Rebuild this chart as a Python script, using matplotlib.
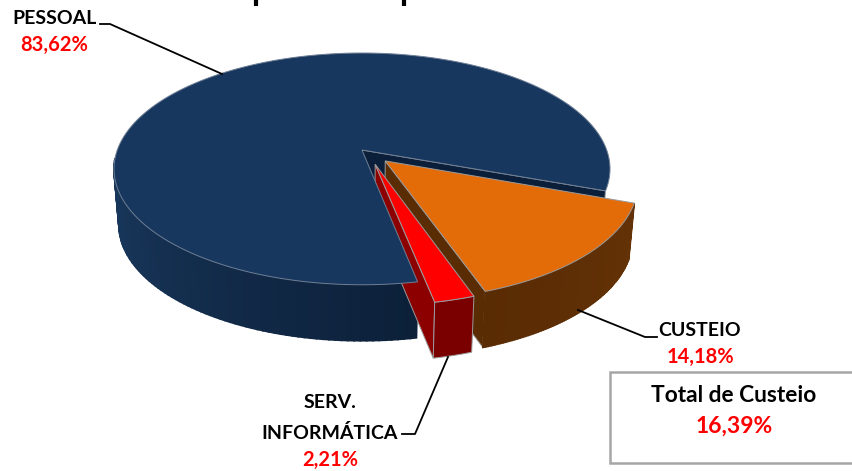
#!/usr/bin/env python3
"""Exploded 3D-look pie of spending shares, drawn with plain polygons."""
import numpy as np
import matplotlib
matplotlib.use("Agg")
import matplotlib.pyplot as plt
from matplotlib.patches import Polygon, Rectangle

plt.rcParams["font.family"] = ["Lato", "DejaVu Sans"]

# data
names = ["PESSOAL", "CUSTEIO", "SERV.\nINFORMÁTICA"]
shares = [83.62, 14.18, 2.21]
share_labels = ["83,62%", "14,18%", "2,21%"]
total_name = "Total de Custeio"
total_label = "16,39%"

# look
NAVY, NAVY_CUT = "#17375e", "#0b1f3a"
ORANGE, ORANGE_SIDE = "#e36c09", "#5a2c04"
RED, RED_SIDE, RED_CUT = "#ff0000", "#7a0000", "#8c0000"
EDGE = "#9a9a9a"

# pie projection, in pixels of the 852x471 picture
CX, CY = 362, 150
A, B, K = 244.7, 112.8, 0.163
DEPTH = 56
START = -20.0          # degrees, slices run clockwise from here


def project(u, v):
    w = 1 + K * v
    return CX + A * u / w, CY - B * v / w


def drop(x, y):
    return CX + (x - CX) * 0.98, y + DEPTH


def rim(t0, t1, explode=0.0, mid=0.0, n=80):
    t = np.radians(np.linspace(t0, t1, n))
    ou = explode * np.cos(np.radians(mid))
    ov = explode * np.sin(np.radians(mid))
    return project(np.cos(t) + ou, np.sin(t) + ov), project(ou, ov)


def poly(ax, xs, ys, color, edge=EDGE, lw=0.7, z=1):
    ec = color if edge is None else edge
    ax.add_patch(Polygon(np.column_stack([xs, ys]), closed=True, facecolor=color,
                         edgecolor=ec, lw=lw, zorder=z))


def side_band(ax, xs, ys, c0, c1, z):
    # outer wall in thin strips so it darkens towards the cut
    c0, c1 = np.array(matplotlib.colors.to_rgb(c0)), np.array(matplotlib.colors.to_rgb(c1))
    bx, by = drop(xs, ys)
    n = len(xs) - 1
    for i in range(n):
        col = c0 + (c1 - c0) * i / max(n - 1, 1)
        poly(ax, [xs[i], xs[i + 1], bx[i + 1], bx[i]], [ys[i], ys[i + 1], by[i + 1], by[i]],
             col, edge=None, lw=1.2, z=z)


def cut_face(ax, ap, pt, color, z):
    ax0, ay0 = ap
    px, py = pt
    bx0, by0 = drop(ax0, ay0)
    bx1, by1 = drop(px, py)
    poly(ax, [ax0, px, bx1, bx0], [ay0, py, by1, by0], color, z=z)


fig = plt.figure(figsize=(8.52, 4.71), dpi=100, facecolor="white")
ax = fig.add_axes([0, 0, 1, 1])
ax.set_xlim(0, 852)
ax.set_ylim(471, 0)
ax.axis("off")

deg = [s / sum(shares) * 360 for s in shares]
navy_sweep, orange_sweep, red_sweep = deg
o0, o1 = START, START - orange_sweep
r0, r1 = o1, o1 - red_sweep
n0, n1 = r1, START - 360

# navy: cut seen through the gap, wall on the front half, then the top
(nx, ny), apex = rim(n0, n1, n=240)
cut_face(ax, apex, (nx[-1], ny[-1]), NAVY_CUT, 1)
keep = np.arange(len(nx)) <= np.argmin(nx) + 4
side_band(ax, nx[keep][::-1], ny[keep][::-1], "#1a3a60", "#0c2039", 2)

# orange
(ox, oy), oap = rim(o0, o1, 0.1335, (o0 + o1) / 2)
cut_face(ax, oap, (ox[-1], oy[-1]), ORANGE_SIDE, 3)
side_band(ax, ox, oy, "#643206", ORANGE_SIDE, 3)
poly(ax, np.r_[oap[0], ox], np.r_[oap[1], oy], ORANGE, z=4)

# red
(rx, ry), rap = rim(r0, r1, 0.135, -67)
cut_face(ax, rap, (rx[-1], ry[-1]), RED_CUT, 5)
bx, by = drop(rx, ry)
poly(ax, np.r_[rx, bx[::-1]], np.r_[ry, by[::-1]], RED_SIDE, z=5)
poly(ax, np.r_[rap[0], rx], np.r_[rap[1], ry], RED, z=6)

poly(ax, np.r_[apex[0], nx], np.r_[apex[1], ny], NAVY, edge="#6f7f95", z=7)

# leader lines
leaders = [([100, 110, 222], [24, 24, 74]),
           ([578, 645, 657], [310, 337, 337]),
           ([448, 415, 402], [357, 434, 434])]
for lx, ly in leaders:
    ax.plot(lx, ly, color="black", lw=1.3, zorder=8, solid_joinstyle="round")

# what is left of the cropped title: two descenders at the top edge
ax.vlines([255.5, 404], 0, 5.5, color="black", lw=3.0, zorder=8)


def label(x, y, s, color="black", size=14):
    ax.text(x, y, s, ha="center", va="center", color=color, fontsize=size,
            fontweight="bold", zorder=9)


label(55, 18, names[0])
label(54, 45, share_labels[0], "red", 14.5)
label(700, 331, names[1])
label(700, 357, share_labels[1], "red", 14.5)
sv, inf = names[2].split("\n")
label(330, 403, sv)
label(330, 433, inf)
label(330, 460, share_labels[2], "red", 14.5)

ax.add_patch(Rectangle((610, 372), 250, 91, facecolor="white", edgecolor="#a6a6a6", lw=1.8, zorder=8))
label(734, 396, total_name, size=16.4)
label(734, 426, total_label, "red", 16.5)

fig.savefig("out.png", dpi=100, facecolor="white")
